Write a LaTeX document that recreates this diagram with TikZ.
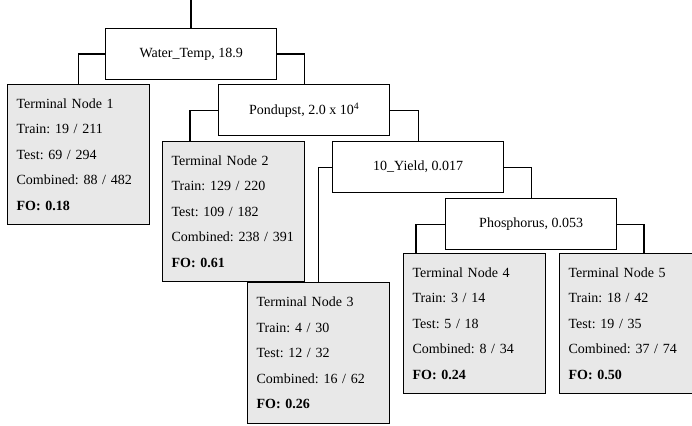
\documentclass[tikz,border=0pt]{standalone}
\usepackage{fontspec}
\setmainfont{Liberation Serif}
\frenchspacing
\begin{document}
\begin{tikzpicture}[x=1pt,y=-1pt,
  split/.style={draw=black, line width=1.3pt, fill=white, minimum width=171pt, minimum height=51pt, inner sep=0pt, anchor=north west, font=\fontsize{14}{16}\selectfont},
  term/.style={draw=black, line width=1.3pt, fill=termgray, minimum width=142pt, minimum height=140pt, text width=124pt, inner xsep=9pt, inner ysep=0pt, align=left, anchor=north west, font=\fontsize{14}{25.5}\selectfont},
  conn/.style={line width=1.3pt, draw=black}]
\definecolor{termgray}{HTML}{E8E8E8}
\useasboundingbox (0,0) rectangle (692,425);
\clip (0,0) rectangle (692,425);
% split nodes
\node[split] (wt) at (105,28) {Water\_Temp, 18.9};
\node[split] (pd) at (218,84) {Pondupst, 2.0 x 10\textsuperscript{4}};
\node[split] (yd) at (332,141) {10\_Yield, 0.017};
\node[split] (ph) at (445,198) {Phosphorus, 0.053};
% terminal nodes
\node[term] (t1) at (7,84) {Terminal Node 1\\Train: 19 / 211\\Test: 69 / 294\\Combined: 88 / 482\\\textbf{FO: 0.18}};
\node[term] (t2) at (162,141) {Terminal Node 2\\Train: 129 / 220\\Test: 109 / 182\\Combined: 238 / 391\\\textbf{FO: 0.61}};
\node[term, minimum height=141pt] (t3) at (247,282) {Terminal Node 3\\Train: 4 / 30\\Test: 12 / 32\\Combined: 16 / 62\\\textbf{FO: 0.26}};
\node[term] (t4) at (403,253) {Terminal Node 4\\Train: 3 / 14\\Test: 5 / 18\\Combined: 8 / 34\\\textbf{FO: 0.24}};
\node[term] (t5) at (559,253) {Terminal Node 5\\Train: 18 / 42\\Test: 19 / 35\\Combined: 37 / 74\\\textbf{FO: 0.50}};
% connectors
\coordinate (top) at (191,0);
\draw[conn] (top) -- (top |- wt.north);
\draw[conn] (wt.west) -| (t1.north);
\draw[conn] (wt.east) -| (pd.north);
\draw[conn] (pd.west) -| ([xshift=28pt]t2.north west);
\draw[conn] (pd.east) -| (yd.north);
\draw[conn] (yd.west) -| (t3.north);
\draw[conn] (yd.east) -| (ph.north);
\draw[conn] (ph.west) -| ([xshift=13pt]t4.north west);
\draw[conn] (ph.east) -| ([xshift=85pt]t5.north west);
\end{tikzpicture}
\end{document}
